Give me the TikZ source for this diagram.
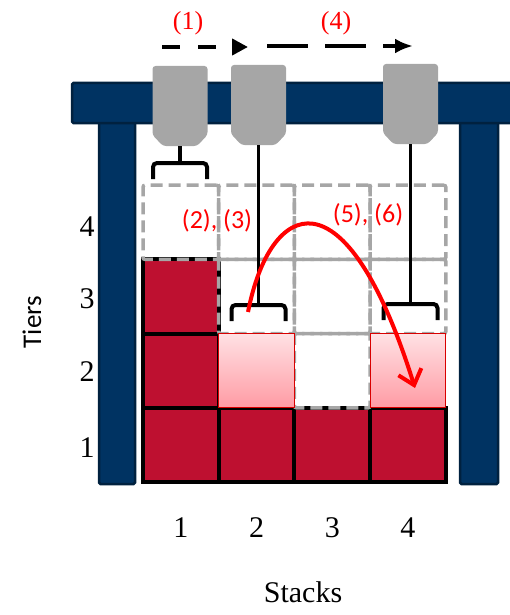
\documentclass[tikz,border=0pt]{standalone}
\usepackage{fontspec}
\setmainfont{Liberation Serif}
\newfontfamily\calibri{Carlito}
\usepackage{tikz}
\usetikzlibrary{arrows.meta}
\definecolor{frameN}{HTML}{003362}
\definecolor{frameD}{HTML}{00213F}
\definecolor{crateR}{HTML}{BE1030}
\definecolor{slotG}{HTML}{A6A6A6}
\definecolor{pinkT}{HTML}{FFE1E4}
\definecolor{pinkB}{HTML}{FF9BA4}

\begin{document}
\begin{tikzpicture}[x=1pt,y=-1pt,
  cell/.style={rectangle,minimum width=75.7pt,minimum height=74.2pt,inner sep=0pt},
  crate/.style={cell,fill=crateR,draw=black,line width=4pt},
  slot/.style={cell,draw=slotG,line width=3.5pt,dash pattern=on 12pt off 6pt,rounded corners=2pt},
  moved/.style={cell,draw=red!85!black,line width=0.8pt,top color=pinkT,bottom color=pinkB},
  beam/.style={fill=frameN,draw=frameD,line width=2.5pt,rounded corners=1.5pt},
  cable/.style={line width=3.5pt,black},
  clamp/.style={line width=4pt,black,rounded corners=4pt},
  path1/.style={-{Triangle[length=16pt,width=16pt]},line width=4pt,dash pattern=on 18pt off 18pt},
  path2/.style={-{Latex[length=18pt,width=15pt]},line width=4pt,dash pattern=on 41pt off 17pt},
  move/.style={-{Straight Barb[length=14pt,width=24pt]},line width=4pt,red},
  num/.style={font=\fontsize{30}{32}\selectfont,inner sep=0pt},
  stepno/.style={text=red,inner sep=0pt}]
  \useasboundingbox (0,0) rectangle (510,615);

  % frame of the crane
  \draw[beam] (99,118) rectangle (135,484);
  \draw[beam] (460,118) rectangle (498,484);
  \draw[beam] (72,83) rectangle (530,123);

  % grippers
  \foreach \n/\gx/\gy in {1/180/66, 2/258.5/65, 3/410.5/64} {
    \fill[slotG,rounded corners=3pt] (\gx-27.5,\gy) -- (\gx+27.5,\gy) -- (\gx+27.5,\gy+69)
      -- (\gx+17,\gy+80) -- (\gx-17,\gy+80) -- (\gx-27.5,\gy+69) -- cycle;
    \coordinate (g\n) at (\gx,\gy+80);
  }

  % stacks x tiers
  \foreach \s in {1,...,4}
    \foreach \t in {1,...,4}
      \coordinate (c\s\t) at ({143+75.7*(\s-0.5)},{482-74.2*(\t-0.5)});

  \foreach \c in {11,12,13,21,31,41}
    \node[crate] (k\c) at (c\c) {};
  \foreach \c in {14,24,34,44,23,33,43,32}
    \node[slot] (s\c) at (c\c) {};
  \node[moved] (p22) at (c22) {};
  \node[moved] (p42) at (c42) {};

  % cables and clamps
  \coordinate (b1) at (180,163);
  \coordinate (b2) at (258.5,305);
  \coordinate (b3) at (410.5,304);
  \foreach \n in {1,2,3} {
    \draw[cable] (g\n) -- (b\n);
    \draw[clamp] (b\n) +(-27,16) -- +(-27,0) -- +(27,0) -- +(27,16);
  }

  % moves
  \coordinate (a1s) at (162,47);
  \coordinate (a1e) at (248,47);
  \coordinate (a2s) at (267,46);
  \coordinate (a2e) at (413,46);
  \draw[path1] (a1s) -- (a1e);
  \draw[path2] (a2s) -- (a2e);
  \coordinate (mvs) at (248,312);
  \coordinate (mve) at (415,388);
  \draw[move] (mvs) .. controls (270,200) and (345,165) .. (mve);

  \node[stepno,font=\fontsize{26}{28}\selectfont] (l1) at (188,23) {(1)};
  \node[stepno,font=\fontsize{26}{28}\selectfont] (l4) at (336,23) {(4)};
  \node[stepno,font=\calibri\fontsize{26}{28}\selectfont] (l23) at (217,221) {(2), (3)};
  \node[stepno,font=\calibri\fontsize{26}{28}\selectfont] (l56) at (368,215) {(5), (6)};

  % axes
  \foreach \t/\ty in {1/448,2/372,3/299,4/227}
    \node[num] (t\t) at (87,\ty) {\t};
  \foreach \s in {1,...,4}
    \node[num,anchor=center] (n\s) at ({143+75.7*(\s-0.5)},528) {\s};
  \node[num] (xl) at (303,592) {Stacks};
  \node[inner sep=0pt,rotate=90,font=\calibri\fontsize{27}{29}\selectfont] (yl) at (32,322) {Tiers};
\end{tikzpicture}
\end{document}
